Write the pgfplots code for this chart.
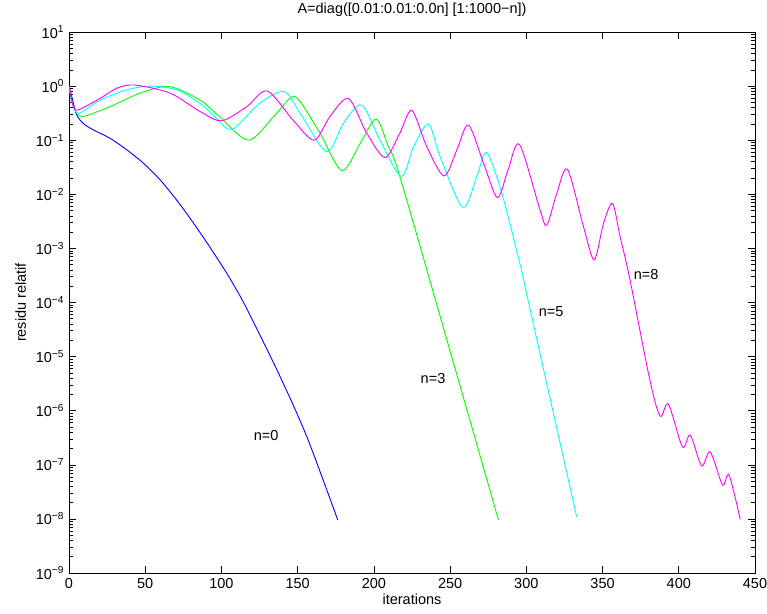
\documentclass[border=0pt]{standalone}
\usepackage{fontspec}
\setmainfont{Liberation Sans}
\usepackage{pgfplots}
\pgfplotsset{compat=1.18}
\usepackage{pgfplotstable}
\usetikzlibrary{calc}

\definecolor{mblue}{rgb}{0,0,1}
\definecolor{mgreen}{rgb}{0,1,0}
\definecolor{mcyan}{rgb}{0,1,1}
\definecolor{mmagenta}{rgb}{1,0,1}

% x = iteration, ly = log10(residu relatif)
\pgfplotstableread{
x ly
0 0
2.4 -0.26
5 -0.53
9.4 -0.69
16 -0.81
27 -0.965
38 -1.18
49 -1.43
60 -1.74
71 -2.12
81.6 -2.53
92.5 -2.98
103.5 -3.46
113 -3.92
121 -4.36
138.5 -5.37
156 -6.48
176.3 -8.02
}\nzero
\pgfplotstableread{
x ly
0 0
1.5 -0.25
4 -0.45
9 -0.56
27 -0.38
46.6 -0.13
66 -0.01
86 -0.26
99 -0.57
117.7 -1.0
134 -0.57
146 -0.2
152 -0.30
164.7 -0.87
179 -1.56
191 -1.06
201.4 -0.61
209.5 -1.12
217 -1.67
250 -4.9
281.7 -8.02
}\nthree
\pgfplotstableread{
x ly
0 0
1.5 -0.25
3.5 -0.42
7 -0.50
20.3 -0.26
37.8 -0.07
53 0.0
70.7 -0.07
86 -0.32
97 -0.60
107 -0.80
125 -0.32
141 -0.10
151.6 -0.50
169 -1.21
180 -0.69
192 -0.35
204 -1.0
218 -1.67
226 -1.12
235.8 -0.70
243.4 -1.30
258.3 -2.24
267.5 -1.67
274 -1.23
283.9 -1.98
296 -3.31
302.8 -4.17
333 -7.96
}\nfive
\pgfplotstableread{
x ly
0 0
1.5 -0.22
3 -0.38
6 -0.44
20.3 -0.23
31.3 -0.04
43 0.02
66.3 -0.13
86 -0.47
100 -0.64
116.6 -0.38
130 -0.09
147 -0.63
160.8 -1.0
171 -0.57
183.3 -0.23
195.3 -0.87
207.3 -1.32
217 -0.87
224.9 -0.45
234.7 -1.12
246 -1.66
254.4 -1.18
262 -0.72
272 -1.43
281 -2.06
288 -1.55
295.5 -1.08
309 -2.29
313.4 -2.57
320 -1.98
327 -1.54
337.5 -2.6
344.5 -3.21
350.6 -2.54
356.5 -2.17
361.5 -2.78
368 -3.58
381 -5.43
387.8 -6.10
393.2 -5.88
402.4 -6.67
407.5 -6.45
415 -7.02
420.6 -6.76
428.7 -7.37
433 -7.19
440.3 -8.01
}\neight

\begin{document}
\fontsize{14.5}{17}\selectfont
\begin{tikzpicture}
\begin{axis}[
    scale only axis,
    width=686pt, height=541pt,
    ymode=log,
    xmin=0, xmax=450,
    ymin=1e-9, ymax=1e1,
    xtick={0,50,...,450},
    ytick={1e-9,1e-8,1e-7,1e-6,1e-5,1e-4,1e-3,1e-2,1e-1,1e0,1e1},
    yticklabels={10\textsuperscript{−9},10\textsuperscript{−8},10\textsuperscript{−7},10\textsuperscript{−6},10\textsuperscript{−5},10\textsuperscript{−4},10\textsuperscript{−3},10\textsuperscript{−2},10\textsuperscript{−1},10\textsuperscript{0},10\textsuperscript{1}},
    minor ytick={
      2e-9,3e-9,4e-9,5e-9,6e-9,7e-9,8e-9,9e-9,
      2e-8,3e-8,4e-8,5e-8,6e-8,7e-8,8e-8,9e-8,
      2e-7,3e-7,4e-7,5e-7,6e-7,7e-7,8e-7,9e-7,
      2e-6,3e-6,4e-6,5e-6,6e-6,7e-6,8e-6,9e-6,
      2e-5,3e-5,4e-5,5e-5,6e-5,7e-5,8e-5,9e-5,
      2e-4,3e-4,4e-4,5e-4,6e-4,7e-4,8e-4,9e-4,
      2e-3,3e-3,4e-3,5e-3,6e-3,7e-3,8e-3,9e-3,
      2e-2,3e-2,4e-2,5e-2,6e-2,7e-2,8e-2,9e-2,
      0.2,0.3,0.4,0.5,0.6,0.7,0.8,0.9,
      2,3,4,5,6,7,8,9},
    tick label style={/pgf/number format/assume math mode=true},
    title={A=diag([0.01:0.01:0.0n] [1:1000−n])},
    title style={yshift=4pt},
    xlabel={iterations},
    ylabel={residu relatif},
    xlabel style={yshift=4pt},
    axis line style={line width=0.8pt},
    every tick/.style={black, line width=0.6pt},
    major tick length=7pt,
    minor tick length=4pt,
    tick align=inside,
    every axis plot/.append style={line width=0.9pt, smooth, no marks},
]
\addplot[mblue] table[x=x, y expr=10^(\thisrow{ly})] {\nzero};
\addplot[mgreen] table[x=x, y expr=10^(\thisrow{ly})] {\nthree};
\addplot[mcyan] table[x=x, y expr=10^(\thisrow{ly})] {\nfive};
\addplot[mmagenta] table[x=x, y expr=10^(\thisrow{ly})] {\neight};
\node at (axis cs:129.3,3.55e-7) {n=0};
\node at (axis cs:238.8,3.98e-6) {n=3};
\node at (axis cs:316.3,6.9e-5) {n=5};
\node at (axis cs:378.6,3.24e-4) {n=8};
\end{axis}
\pgfresetboundingbox
\path ($(current axis.south west)+(-69pt,-40pt)$) rectangle ($(current axis.north east)+(12pt,32pt)$);
\end{tikzpicture}
\end{document}
